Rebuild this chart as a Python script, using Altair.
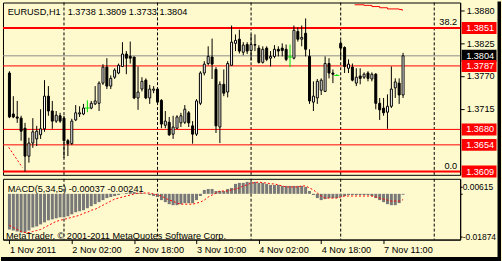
import altair as alt
import pandas as pd
import numpy as np

# ---------------- data ----------------
symbol = "EURUSD,H1"
opens = [1.3775, 1.3706, 1.3701, 1.3699, 1.3682, 1.3635, 1.3657, 1.3664, 1.3671, 1.3681,
         1.3736, 1.3711, 1.3694, 1.3703, 1.3699, 1.3661, 1.3656, 1.3696, 1.3706, 1.3706,
         1.3716, 1.3716, 1.3723, 1.3724, 1.3758, 1.3785, 1.3753, 1.3768, 1.3775, 1.3786,
         1.3807, 1.3803, 1.3802, 1.3733, 1.3748, 1.3763, 1.3733, 1.3746, 1.3748, 1.3729,
         1.3687, 1.3692, 1.3672, 1.3682, 1.3691, 1.3692, 1.3708, 1.3686, 1.3672, 1.3724,
         1.3775, 1.3791, 1.3802, 1.3781, 1.3684, 1.3756, 1.3743, 1.3788, 1.3825, 1.3832,
         1.3810, 1.3823, 1.3813, 1.3823, 1.3817, 1.3793, 1.3817, 1.3800, 1.3803, 1.3815,
         1.3817, 1.3815, 1.3802, 1.3800, 1.3845, 1.3832, 1.3842, 1.3803, 1.3726, 1.3733,
         1.3746, 1.3744, 1.3791, 1.3775, 1.3771, 1.3825, 1.3818, 1.3783, 1.3785, 1.3758,
         1.3770, 1.3768, 1.3775, 1.3765, 1.3773, 1.3724, 1.3716, 1.3709, 1.3719, 1.3750,
         1.3758, 1.3738]
highs = [1.3778, 1.3736, 1.3728, 1.3703, 1.3691, 1.3666, 1.3699, 1.3686, 1.3714, 1.3763,
         1.3753, 1.3728, 1.3711, 1.3708, 1.3703, 1.3664, 1.3698, 1.3721, 1.3719, 1.3723,
         1.3729, 1.3728, 1.3753, 1.3761, 1.3790, 1.3800, 1.3771, 1.3783, 1.3791, 1.3827,
         1.3812, 1.3828, 1.3802, 1.3786, 1.3768, 1.3766, 1.3755, 1.3753, 1.3751, 1.3731,
         1.3711, 1.3701, 1.3703, 1.3704, 1.3708, 1.3721, 1.3711, 1.3694, 1.3731, 1.3778,
         1.3795, 1.3820, 1.3833, 1.3785, 1.3761, 1.3781, 1.3795, 1.3855, 1.3840, 1.3848,
         1.3827, 1.3827, 1.3840, 1.3840, 1.3822, 1.3820, 1.3820, 1.3812, 1.3822, 1.3820,
         1.3825, 1.3823, 1.3823, 1.3855, 1.3852, 1.3855, 1.3867, 1.3815, 1.3761, 1.3765,
         1.3766, 1.3803, 1.3800, 1.3781, 1.3773, 1.3830, 1.3820, 1.3798, 1.3791, 1.3783,
         1.3783, 1.3776, 1.3778, 1.3776, 1.3775, 1.3733, 1.3733, 1.3739, 1.3786, 1.3766,
         1.3766, 1.3809]
lows = [1.3699, 1.3699, 1.3691, 1.3661, 1.3609, 1.3624, 1.3649, 1.3652, 1.3664, 1.3676,
        1.3703, 1.3681, 1.3691, 1.3691, 1.3632, 1.3635, 1.3654, 1.3694, 1.3701, 1.3704,
        1.3709, 1.3714, 1.3721, 1.3711, 1.3755, 1.3748, 1.3748, 1.3765, 1.3773, 1.3785,
        1.3773, 1.3791, 1.3731, 1.3713, 1.3744, 1.3731, 1.3723, 1.3741, 1.3724, 1.3682,
        1.3682, 1.3669, 1.3664, 1.3681, 1.3684, 1.3689, 1.3684, 1.3656, 1.3669, 1.3721,
        1.3771, 1.3788, 1.3765, 1.3674, 1.3657, 1.3736, 1.3734, 1.3788, 1.3812, 1.3808,
        1.3805, 1.3807, 1.3796, 1.3812, 1.3791, 1.3791, 1.3795, 1.3786, 1.3800, 1.3803,
        1.3803, 1.3795, 1.3785, 1.3798, 1.3828, 1.3820, 1.3803, 1.3723, 1.3711, 1.3723,
        1.3738, 1.3743, 1.3766, 1.3758, 1.3770, 1.3798, 1.3775, 1.3775, 1.3761, 1.3753,
        1.3756, 1.3765, 1.3761, 1.3761, 1.3714, 1.3696, 1.3703, 1.3681, 1.3716, 1.3733,
        1.3723, 1.3733]
closes = [1.3701, 1.3701, 1.3699, 1.3677, 1.3635, 1.3657, 1.3676, 1.3677, 1.3681, 1.3736,
          1.3711, 1.3694, 1.3704, 1.3694, 1.3661, 1.3656, 1.3694, 1.3708, 1.3708, 1.3716,
          1.3716, 1.3724, 1.3728, 1.3758, 1.3785, 1.3753, 1.3766, 1.3780, 1.3788, 1.3807,
          1.3800, 1.3800, 1.3733, 1.3743, 1.3761, 1.3733, 1.3748, 1.3748, 1.3726, 1.3689,
          1.3694, 1.3671, 1.3684, 1.3701, 1.3703, 1.3714, 1.3691, 1.3672, 1.3728, 1.3775,
          1.3790, 1.3803, 1.3790, 1.3686, 1.3756, 1.3741, 1.3791, 1.3827, 1.3830, 1.3812,
          1.3822, 1.3812, 1.3823, 1.3822, 1.3793, 1.3815, 1.3798, 1.3803, 1.3815, 1.3812,
          1.3813, 1.3798, 1.3802, 1.3847, 1.3832, 1.3835, 1.3815, 1.3728, 1.3736, 1.3761,
          1.3763, 1.3791, 1.3775, 1.3773, 1.3771, 1.3817, 1.3786, 1.3790, 1.3763, 1.3768,
          1.3766, 1.3773, 1.3766, 1.3773, 1.3724, 1.3713, 1.3708, 1.3719, 1.3748, 1.3760,
          1.3738, 1.3804]
macd_hist = [-0.01461, -0.01502, -0.01544, -0.01585, -0.01585, -0.01502, -0.01378, -0.01336, -0.01253, -0.01170,
             -0.01087, -0.01046, -0.01004, -0.00963, -0.00963, -0.00921, -0.00838, -0.00755, -0.00714, -0.00672,
             -0.00589, -0.00506, -0.00423, -0.00340, -0.00257, -0.00174, -0.00133, -0.00091, -0.00050, -0.00008,
             0.00033, 0.00075, 0.00075, 0.00033, 0.00033, -0.00008, -0.00050, -0.00091, -0.00133, -0.00257,
             -0.00340, -0.00423, -0.00465, -0.00465, -0.00423, -0.00382, -0.00382, -0.00382, -0.00257, -0.00091,
             0.00158, 0.00199, 0.00199, 0.00116, 0.00116, 0.00116, 0.00199, 0.00241, 0.00407, 0.00448,
             0.00448, 0.00490, 0.00490, 0.00490, 0.00448, 0.00448, 0.00407, 0.00365, 0.00365, 0.00365,
             0.00324, 0.00324, 0.00324, 0.00324, 0.00324, 0.00324, 0.00282, 0.00116, -0.00050, -0.00174,
             -0.00257, -0.00216, -0.00174, -0.00174, -0.00174, -0.00133, -0.00091, -0.00050, -0.00050, -0.00050,
             -0.00050, -0.00050, -0.00050, -0.00091, -0.00174, -0.00257, -0.00340, -0.00423, -0.00465, -0.00465,
             -0.00382, -0.00037]
macd_signal = [-0.01295, -0.01378, -0.01461, -0.01544, -0.01585, -0.01585, -0.01544, -0.01502, -0.01461, -0.01378,
               -0.01295, -0.01212, -0.01129, -0.01087, -0.01046, -0.01004, -0.00963, -0.00921, -0.00880, -0.00797,
               -0.00755, -0.00672, -0.00631, -0.00548, -0.00465, -0.00382, -0.00299, -0.00216, -0.00174, -0.00133,
               -0.00091, -0.00050, -0.00008, 0.00033, 0.00033, 0.00033, 0.00033, -0.00008, -0.00050, -0.00091,
               -0.00174, -0.00257, -0.00299, -0.00382, -0.00423, -0.00423, -0.00423, -0.00423, -0.00382, -0.00340,
               -0.00257, -0.00133, -0.00050, 0.00033, 0.00116, 0.00116, 0.00116, 0.00158, 0.00199, 0.00241,
               0.00324, 0.00365, 0.00448, 0.00448, 0.00490, 0.00448, 0.00448, 0.00407, 0.00407, 0.00365,
               0.00324, 0.00282, 0.00282, 0.00282, 0.00282, 0.00324, 0.00324, 0.00241, 0.00158, 0.00033,
               -0.00091, -0.00174, -0.00174, -0.00174, -0.00174, -0.00133, -0.00091, -0.00091, -0.00091, -0.00091,
               -0.00091, -0.00091, -0.00091, -0.00091, -0.00133, -0.00174, -0.00216, -0.00257, -0.00299, -0.00299,
               -0.00299, -0.00241]
red_levels = [1.3851, 1.3787, 1.3680, 1.3654, 1.3609]
fibo_levels = [1.3851, 1.3609]
fibo_names = ["38.2", "0.0"]
bid_level = [1.3804]
separators = [14, 38, 62, 85, 109]
time_tick_idx = [0, 16, 32, 48, 64, 80, 96]
time_tick_labels = ["1 Nov 2011", "2 Nov 02:00", "2 Nov 18:00", "3 Nov 10:00",
                    "4 Nov 02:00", "4 Nov 18:00", "7 Nov 11:00"]
price_ticks = [1.3880, 1.3825, 1.3770, 1.3715]
macd_tick_vals = [0.0029, 0.0, -0.0175]
macd_tick_labels = ["0.00615", "0.00", "-0.01874"]
ind_idx = [88.6, 91, 93, 95, 97, 100, 100.8]
ind_val = [1.3890, 1.3889, 1.3887, 1.3885, 1.3883, 1.3882, 1.3880]
fibo_line_idx = [-0.2, 3.3]
fibo_line_val = [1.3650, 1.3616]

# ---------------- styling ----------------
BG = "#FFFACD"
FONT = "Liberation Sans"
FS = 9.2
GREEN = "#00DD00"

idx = list(range(len(opens)))
df = pd.DataFrame({"idx": idx, "open": opens, "high": highs, "low": lows, "close": closes})
df["kind"] = np.where(df.close > df.open, "bull", np.where(df.close < df.open, "bear", "doji"))

xs = alt.Scale(domain=[-0.375, 114.375], nice=False, zero=False)
ys = alt.Scale(domain=[1.36035, 1.38938], nice=False, zero=False)
ms = alt.Scale(domain=[-0.01874, 0.00615], nice=False, zero=False)

price_axis = alt.Axis(orient="right", values=price_ticks, format=".4f", tickSize=4, labelPadding=2,
                      title=None, grid=False, domain=True)


def X(f):
    return alt.X(f, scale=xs, axis=None)


def Y(f):
    return alt.Y(f, scale=ys, axis=price_axis)


one = alt.Data(values=[{"a": 1}])

sep_df = pd.DataFrame({"sep": separators})
seps = alt.Chart(sep_df).mark_rule(color="black", strokeDash=[3, 2], strokeWidth=1).encode(x=X("sep:Q"))

red_df = pd.DataFrame({"level": red_levels})
red_lines = alt.Chart(red_df).mark_rule(color="#FF0000", strokeWidth=1).encode(y=Y("level:Q"))
fibo_df = pd.DataFrame({"level": fibo_levels, "name": fibo_names})
fibo_lines = alt.Chart(fibo_df).mark_rule(color="#FF0000", strokeWidth=2).encode(y=Y("level:Q"))
fibo_text = alt.Chart(fibo_df).mark_text(align="right", baseline="bottom", dy=-1, font=FONT,
                                         fontSize=FS, color="black").encode(
    x=alt.value(456), y=Y("level:Q"), text="name:N")
bid_df = pd.DataFrame({"level": bid_level})
bid_line = alt.Chart(bid_df).mark_rule(color="#8C8C8C", strokeWidth=1).encode(y=Y("level:Q"))

ind_df = pd.DataFrame({"i": ind_idx, "v": ind_val})
ind_line = alt.Chart(ind_df).mark_line(color="#FF0000", strokeWidth=1, interpolate="step-after").encode(
    x=X("i:Q"), y=Y("v:Q"))
fl_df = pd.DataFrame({"i": fibo_line_idx, "v": fibo_line_val})
fibo_line = alt.Chart(fl_df).mark_line(color="#FF0000", strokeWidth=1, strokeDash=[2, 2]).encode(
    x=X("i:Q"), y=Y("v:Q"))

wicks = alt.Chart(df).mark_rule(strokeWidth=1).encode(
    x=X("idx:Q"), y=Y("low:Q"), y2="high:Q",
    color=alt.Color("kind:N", scale=alt.Scale(domain=["bull", "bear", "doji"],
                                              range=["black", "black", GREEN]), legend=None))
bodies = alt.Chart(df).transform_filter("datum.kind != 'doji'").mark_bar(
    size=2, stroke="black", strokeWidth=1, orient="vertical").encode(
    x=X("idx:Q"), y=Y("open:Q"), y2="close:Q",
    fill=alt.Fill("kind:N", scale=alt.Scale(domain=["bull", "bear"], range=["white", "black"]), legend=None))
dojis = alt.Chart(df).transform_filter("datum.kind == 'doji'").mark_tick(
    orient="horizontal", size=5, thickness=1, color=GREEN, opacity=1).encode(
    x=X("idx:Q"), y=Y("open:Q"))

title1 = alt.Chart(one).mark_text(align="left", baseline="middle", font=FONT, fontSize=FS,
                                  color="black", text=symbol).encode(x=alt.value(4.7), y=alt.value(9.5))
ohlc_text = f"{opens[-1]:.4f} {highs[-1]:.4f} {lows[-1]:.4f} {closes[-1]:.4f}"
title2 = alt.Chart(one).mark_text(align="left", baseline="middle", font=FONT, fontSize=FS,
                                  color="black", text=ohlc_text).encode(x=alt.value(65), y=alt.value(9.5))

bid_box = alt.Chart(bid_df).mark_tick(orient="horizontal", size=35, thickness=12, color="black",
                                      opacity=1).encode(x=alt.value(478), y=Y("level:Q"))
red_box = alt.Chart(red_df).mark_tick(orient="horizontal", size=35, thickness=12, color="#FF0000",
                                      opacity=1).encode(x=alt.value(478), y=Y("level:Q"))
bid_box_t = alt.Chart(bid_df).mark_text(align="left", baseline="middle", font=FONT, fontSize=FS,
                                        color="white").encode(
    x=alt.value(465), y=Y("level:Q"), text=alt.Text("level:Q", format=".4f"))
red_box_t = alt.Chart(red_df).mark_text(align="left", baseline="middle", font=FONT, fontSize=FS,
                                        color="white").encode(
    x=alt.value(465), y=Y("level:Q"), text=alt.Text("level:Q", format=".4f"))

main = alt.layer(seps, bid_line, red_lines, fibo_lines, ind_line, fibo_line, wicks, bodies, dojis,
                 title1, title2, fibo_text, bid_box, red_box, bid_box_t, red_box_t).properties(
    width=459, height=173)

# ---------------- MACD panel ----------------
mdf = pd.DataFrame({"idx": idx, "hist": macd_hist, "sig": macd_signal})
expr = " : ".join(f"datum.value == {v} ? '{l}'" for v, l in zip(time_tick_idx, time_tick_labels)) + " : ''"
time_axis = alt.Axis(orient="bottom", values=time_tick_idx, labelExpr=expr, labelAlign="left",
                     labelFlush=False, tickSize=4, labelPadding=2, title=None, grid=False)
mexpr = " : ".join(f"datum.value == {v} ? '{l}'" for v, l in zip(macd_tick_vals, macd_tick_labels)) + " : ''"
macd_axis = alt.Axis(orient="right", values=macd_tick_vals, labelExpr=mexpr, tickSize=2, labelPadding=0,
                     labelFontSize=8.5, title=None, grid=False)


def MX(f):
    return alt.X(f, scale=xs, axis=time_axis)


def MY(f):
    return alt.Y(f, scale=ms, axis=macd_axis)


seps2 = alt.Chart(sep_df).mark_rule(color="black", strokeDash=[3, 2], strokeWidth=1).encode(x=MX("sep:Q"))
hist = alt.Chart(mdf).mark_bar(size=3, color="#787878", orient="vertical").encode(
    x=MX("idx:Q"), y=MY("hist:Q"), y2=alt.datum(0))
sig = alt.Chart(mdf).mark_line(color="#FF0000", strokeWidth=1, strokeDash=[2, 2]).encode(
    x=MX("idx:Q"), y=MY("sig:Q"))
macd_label = f"MACD(5,34,5) {macd_hist[-1]:.5f} {macd_signal[-1]:.5f}"
mt1 = alt.Chart(one).mark_text(align="left", baseline="middle", font=FONT, fontSize=FS, color="black",
                               text=macd_label).encode(x=alt.value(4.7), y=alt.value(10))
mt2 = alt.Chart(one).mark_text(align="left", baseline="middle", font=FONT, fontSize=FS, color="black",
                               text="MetaTrader, \u00a9 2001-2011 MetaQuotes Software Corp.").encode(
    x=alt.value(3), y=alt.value(57.5))
band_r = alt.Chart(one).mark_rect(color="black").encode(
    x=alt.value(496.5), x2=alt.value(500), y=alt.value(-178), y2=alt.value(83))
band_b = alt.Chart(one).mark_rect(color="black").encode(
    x=alt.value(-2), x2=alt.value(500), y=alt.value(78.5), y2=alt.value(83))

macd = alt.layer(seps2, hist, sig, mt1, mt2, band_r, band_b).properties(width=459, height=61)

chart = alt.vconcat(main, macd, spacing=4, bounds="flush").properties(
    padding=0, background=BG
).configure_view(stroke="black", strokeWidth=1).configure_axis(
    labelFont=FONT, labelFontSize=FS, labelColor="black", tickColor="black", domainColor="black",
    grid=False
)

chart.save("out.html", embed_options={"renderer": "svg", "actions": False})
